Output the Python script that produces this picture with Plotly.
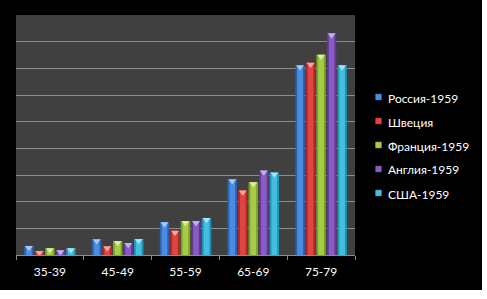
import plotly.graph_objects as go

# Age groups and mortality-style values per country (y axis in grid units 0..9)
categories = ["35-39", "45-49", "55-59", "65-69", "75-79"]
series_names = ["Россия-1959", "Швеция", "Франция-1959", "Англия-1959", "США-1959"]
russia = [0.34, 0.59, 1.23, 2.84, 7.11]
sweden = [0.15, 0.33, 0.91, 2.42, 7.21]
france = [0.25, 0.52, 1.27, 2.73, 7.51]
england = [0.18, 0.45, 1.27, 3.17, 8.31]
usa = [0.25, 0.60, 1.39, 3.09, 7.11]
series_values = [russia, sweden, france, england, usa]

# (edge, body, highlight) shades for each series
palette = [
    ("#2C62B2", "#4A8CE0", "#A6C8F2"),
    ("#AE2A28", "#DE4541", "#F2A6A2"),
    ("#7EA02A", "#A6CB44", "#D8EE9C"),
    ("#603A92", "#8A5BC4", "#C8ACEA"),
    ("#2292B4", "#43BEDF", "#A6E2F2"),
]

W, H = 487, 299
ML, MR, MT, MB = 16, 132, 15, 44
PW, PH = W - ML - MR, H - MT - MB
YMAX = 9

bar_w = 0.14
pitch = 0.155
group_left = -0.38
x_idx = list(range(len(categories)))

fig = go.Figure()
for i, (name, vals) in enumerate(zip(series_names, series_values)):
    edge, body, hi = palette[i]
    off = group_left + i * pitch
    # outer (darker) bar
    fig.add_trace(go.Bar(x=x_idx, y=vals, offset=off, width=bar_w,
                         marker=dict(color=edge, line=dict(width=0)),
                         name=name, showlegend=False, hoverinfo="skip"))
    # lighter centre stripe
    inner = bar_w * 0.6
    fig.add_trace(go.Bar(x=x_idx, y=vals, offset=off + (bar_w - inner) / 2, width=inner,
                         marker=dict(color=body, line=dict(width=0)),
                         showlegend=False, hoverinfo="skip"))
    # bevelled cap on top of each bar
    cap_shift = 1.7 / (PH / YMAX)
    fig.add_trace(go.Scatter(x=[k + off + bar_w / 2 for k in x_idx],
                             y=[v - cap_shift for v in vals],
                             mode="markers",
                             marker=dict(symbol="triangle-down", size=7, color=hi,
                                         line=dict(width=0)),
                             showlegend=False, hoverinfo="skip"))

# black panel behind everything, then the dark plotting area
def px_x(p):
    return (p - ML) / PW

def px_y(p):
    return (MT + PH - p) / PH

shapes = [
    dict(type="rect", xref="paper", yref="paper", layer="below",
         x0=px_x(0), x1=px_x(482), y0=px_y(290), y1=px_y(0),
         fillcolor="#000000", line=dict(width=0)),
    dict(type="rect", xref="paper", yref="paper", layer="below",
         x0=0, x1=1, y0=0, y1=1, fillcolor="#404040", line=dict(width=0)),
]

# legend: small coloured squares with labels
annotations = []
leg_y0 = 97
leg_step = 24
for i, name in enumerate(series_names):
    cy = leg_y0 + i * leg_step
    shapes.append(dict(type="rect", xref="paper", yref="paper",
                       x0=px_x(375.5), x1=px_x(381.5), y0=px_y(cy + 3), y1=px_y(cy - 3),
                       fillcolor=palette[i][1], line=dict(color=palette[i][0], width=0.5)))
    annotations.append(dict(xref="paper", yref="paper", x=px_x(385.5), y=px_y(cy + 1),
                            text=name, showarrow=False, xanchor="left", yanchor="middle",
                            font=dict(family="Lato", size=12, color="#FFFFFF")))

fig.update_layout(
    width=W, height=H,
    margin=dict(l=ML, r=MR, t=MT, b=MB, pad=0),
    paper_bgcolor="#FFFFFF",
    plot_bgcolor="rgba(0,0,0,0)",
    barmode="overlay",
    showlegend=False,
    shapes=shapes,
    annotations=annotations,
    font=dict(family="Lato", size=12, color="#FFFFFF"),
    xaxis=dict(range=[-0.5, len(categories) - 0.5], tickvals=x_idx, ticktext=categories,
               ticks="", showgrid=False, zeroline=False,
               showline=True, linecolor="#8C8C8C", linewidth=1,
               tickfont=dict(family="Lato", size=12, color="#FFFFFF"),
               ticklabelstandoff=6,
               minor=dict(tickvals=[k - 0.5 for k in range(len(categories) + 1)],
                          ticks="outside", ticklen=4, tickcolor="#8C8C8C", tickwidth=1,
                          showgrid=False)),
    yaxis=dict(range=[0, YMAX], dtick=1, showticklabels=False, ticks="",
               showgrid=True, gridcolor="#8C8C8C", gridwidth=1,
               zeroline=False, showline=False),
)

fig.write_html("out.html")
